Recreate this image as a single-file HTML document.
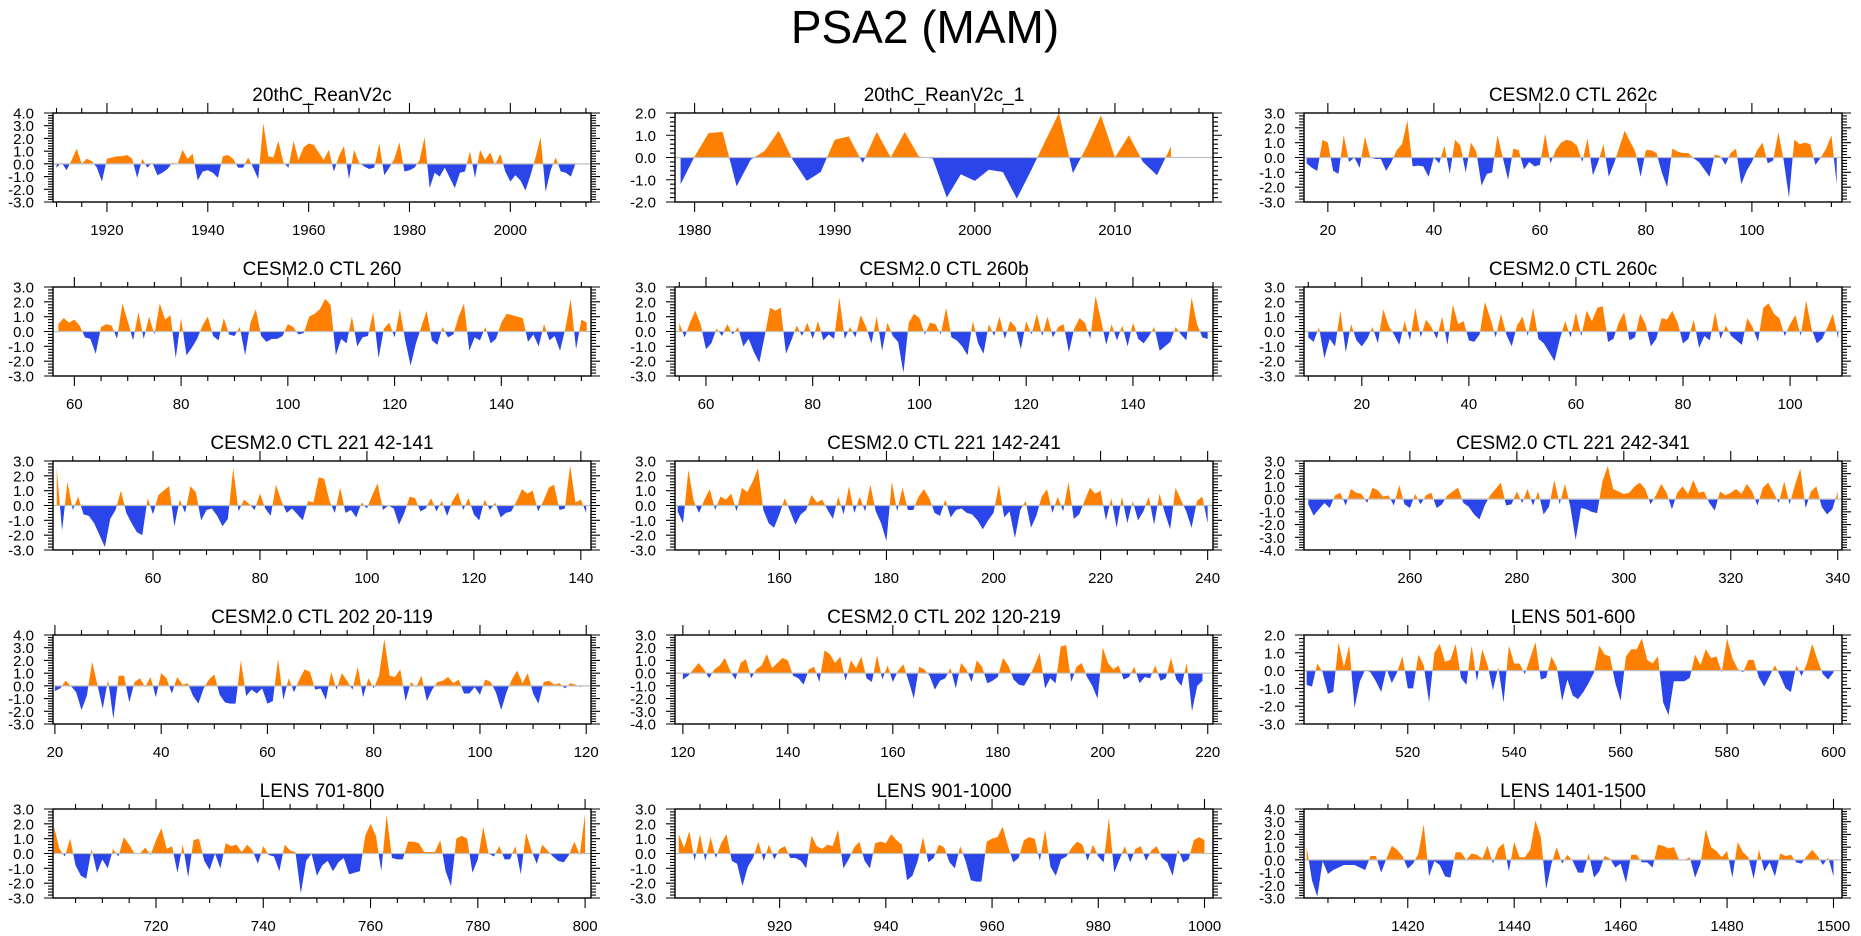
<!DOCTYPE html>
<html><head><meta charset="utf-8"><title>PSA2 (MAM)</title>
<style>
html,body{margin:0;padding:0;background:#fff;}
svg{display:block;font-family:"Liberation Sans",Arial,sans-serif;}
</style></head>
<body>
<svg id="chart" width="1861" height="936" viewBox="0 0 1861 936" xmlns="http://www.w3.org/2000/svg">
<rect width="1861" height="936" fill="#fff"/>
<text x="925" y="43" font-size="46" text-anchor="middle" fill="#000">PSA2 (MAM)</text>
<g id="panels"></g>
</svg>
<script>
// ---- data ----
const titles = ["20thC_ReanV2c","20thC_ReanV2c_1","CESM2.0 CTL 262c","CESM2.0 CTL 260","CESM2.0 CTL 260b","CESM2.0 CTL 260c","CESM2.0 CTL 221 42-141","CESM2.0 CTL 221 142-241","CESM2.0 CTL 221 242-341","CESM2.0 CTL 202 20-119","CESM2.0 CTL 202 120-219","LENS 501-600","LENS 701-800","LENS 901-1000","LENS 1401-1500"];
const startYears = [1910,1979,16,57,55,10,42,141,241,20,120,501,701,901,1401];
const yMins = [-3,-2,-3,-3,-3,-3,-3,-3,-4,-3,-4,-3,-3,-3,-3];
const yMaxs = [4,2,3,3,3,3,3,3,3,4,3,2,3,3,4];
const xMins = [1909.3,1978.6,15.5,56,54.2,9.2,41.3,140.5,240.2,19.64,118.5,500.5,700.8,900.3,1400.5];
const xMaxs = [2016,2017,117,156.8,155,109.7,141.9,241,340.8,120.9,221,601.6,801.1,1001.6,1501.6];
const xMajorSteps = [20,10,20,20,20,20,20,20,20,20,20,20,20,20,20];
const xMinorSteps = [5,2,5,5,5,5,5,5,5,5,5,5,5,5,5];

const s0 = [-0.3,0.1,-0.5,0.3,1.2,0.0,0.4,0.2,-0.3,-1.4,0.4,0.5,0.6,0.6,0.7,0.4,-1.1,0.4,-0.3,0.1,-0.9,-0.7,-0.4,0.1,0.0,1.1,0.4,0.8,-1.3,-0.6,-0.5,-0.7,-1.1,0.6,0.7,0.4,-0.3,-0.3,0.5,-0.3,-1.2,3.2,0.6,0.5,1.8,0.1,-0.3,1.8,0.3,1.3,1.6,1.5,0.9,0.3,1.1,-0.6,0.6,1.4,-1.2,1.1,0.1,-0.2,-0.4,-0.3,1.6,-0.9,-0.3,0.4,1.7,-0.6,-0.5,-0.3,0.3,2.1,-1.9,-0.7,-1.0,-0.3,-1.1,-1.9,-0.7,-0.6,1.0,-1.1,1.1,0.3,0.9,-0.1,0.8,-0.6,-1.4,-0.9,-1.3,-2.1,-0.9,0.5,2.1,-2.2,-0.5,0.5,-0.6,-0.7,-1.0,0.1];
const s1 = [-1.2,0.05,1.1,1.15,-1.3,-0.1,0.3,1.2,-0.1,-1.05,-0.65,0.8,0.95,-0.25,1.15,0.0,1.15,0.05,-0.05,-1.8,-0.75,-1.05,-0.55,-0.65,-1.85,-0.6,0.7,2.0,-0.7,0.5,1.9,0.0,1.0,-0.2,-0.8,0.5];
const s2 = [-0.4,-0.7,-0.9,1.2,1.0,-0.9,-1.1,1.5,-0.3,0.0,-0.7,1.4,0.0,-0.1,-0.1,-0.9,-0.3,0.5,0.9,2.5,-0.6,-0.55,-0.6,-1.3,0.0,-0.4,0.8,-1.1,1.2,0.8,-1.0,1.0,0.4,-1.9,-1.1,-1.0,1.5,0.0,-1.5,0.6,0.5,-0.8,-0.3,-0.6,-0.5,1.6,-0.4,0.5,1.0,1.2,1.1,0.8,-0.3,1.3,-1.2,-0.3,0.9,-1.3,-0.4,0.7,1.8,1.1,0.4,-1.3,0.5,0.5,0.3,-1.0,-2.0,0.6,0.4,0.3,0.3,-0.05,-0.3,-0.8,-1.3,0.2,0.1,-0.5,0.3,0.6,-1.8,-0.9,-0.3,0.5,1.0,-0.4,-0.2,1.7,-0.2,-2.7,1.2,0.9,1.0,0.9,-0.5,0.0,0.6,1.5,-1.8];
const s3 = [0.5,0.9,0.6,0.8,0.4,-0.4,-0.5,-1.5,0.3,0.5,0.4,-0.5,1.9,0.7,-0.6,1.3,-0.5,1.0,-0.2,1.9,0.8,1.1,-1.8,0.9,-1.6,-1.1,-0.5,0.4,1.0,-0.3,-0.6,0.9,-0.2,-0.3,0.3,-1.6,0.6,1.5,-0.3,-0.7,-0.5,-0.5,-0.3,0.5,0.3,-0.2,-0.1,1.0,1.2,1.5,2.2,1.8,-1.6,-0.5,-0.8,1.0,-1.0,-0.4,-0.3,1.3,-1.8,0.2,0.6,-0.4,1.5,-0.6,-2.3,-0.8,0.3,1.4,-0.6,-0.9,0.3,-0.4,-0.2,1.0,1.9,-1.3,-0.4,-0.6,0.3,-0.8,-0.5,0.6,1.2,1.1,1.0,0.9,-0.7,-0.2,-1.0,0.5,-0.6,-0.3,-1.3,0.2,2.2,-1.2,0.8,0.6];
const s4 = [0.6,-0.4,0.6,1.4,0.5,-1.2,-0.8,0.2,-0.3,0.5,-0.2,0.3,-1.0,-0.5,-1.4,-2.1,-0.3,1.6,1.4,1.6,-1.5,-0.6,0.4,-0.3,0.6,-0.5,0.7,-0.6,-0.2,-0.5,2.3,-0.5,0.3,-0.4,1.1,0.3,-0.8,1.0,-1.3,0.6,-0.3,-0.7,-2.8,0.6,1.2,0.9,-0.2,0.6,0.5,-0.2,1.6,-0.4,-0.6,-1.0,-1.6,0.7,-0.8,-1.5,0.5,-0.3,1.0,-0.5,0.7,0.3,-1.2,0.7,-0.2,1.2,-0.3,1.0,-0.4,0.3,0.5,-1.4,0.2,0.9,0.6,-0.5,2.4,0.8,-0.9,0.5,-0.6,0.4,-1.0,0.6,-0.5,-0.8,-0.3,0.3,-1.3,-1.0,-0.7,0.3,-0.2,-0.6,2.3,0.5,-0.4,-0.5];
const s5 = [-0.4,-0.7,0.3,-1.8,-0.5,-1.0,1.4,-1.4,0.5,-0.6,-1.0,-0.5,0.3,-0.8,1.5,0.4,-0.2,-0.9,0.7,-0.6,1.6,-0.4,0.8,0.3,-0.5,1.0,-0.9,1.8,0.5,0.7,-0.6,-0.7,-0.2,2.0,0.9,-0.4,1.2,-0.2,-1.0,0.4,1.0,-0.3,1.6,-0.5,-0.8,-1.4,-2.0,-0.5,0.7,-0.4,1.3,-0.3,1.4,0.7,1.6,1.7,-0.7,-0.5,0.6,1.3,-0.6,-0.4,1.2,0.5,-1.0,-0.5,0.9,0.8,1.4,0.6,-0.8,-0.5,0.8,-1.1,-0.3,-0.6,1.3,-0.5,0.4,-0.3,-0.6,-0.9,0.9,0.3,-0.7,1.6,1.9,1.2,0.9,-0.3,0.5,1.1,-0.3,2.1,0.2,-0.8,-0.5,0.3,1.2,-0.5];
const s6 = [2.5,-1.7,1.6,-0.3,0.6,-0.6,-0.7,-1.2,-2.0,-2.8,-0.9,-0.3,1.0,-0.5,-1.2,-1.8,-2.0,0.5,-0.6,0.7,1.0,1.3,-1.4,0.4,-0.5,1.3,0.9,-1.0,-0.3,-0.2,-0.7,-1.4,-0.9,2.5,-0.4,0.4,0.1,-0.3,0.8,-0.2,-0.7,1.4,0.3,-0.5,-0.2,-0.6,-1.0,0.3,0.2,1.9,1.8,0.3,-0.5,1.2,-0.5,-0.3,-0.8,0.2,-0.2,0.7,1.5,-0.3,0.0,-0.2,-1.3,-0.5,0.6,0.5,-0.4,-0.2,0.5,-0.4,0.3,-0.7,0.3,0.9,-0.3,0.5,-0.6,-1.0,0.4,-0.3,0.2,-0.8,-0.5,-0.4,0.3,1.1,0.8,1.0,-0.4,0.3,1.2,1.4,-0.3,-0.2,2.7,0.2,0.4,-0.5];
const s7 = [-0.4,-1.2,2.4,0.3,-0.5,0.4,1.1,-0.3,0.6,0.4,0.8,-0.4,1.2,0.9,1.6,2.5,-0.3,-1.2,-1.5,-0.6,0.5,-0.4,-1.3,-0.6,-0.3,0.7,0.2,0.4,-0.3,-0.9,0.6,-0.6,1.3,-0.5,0.6,-0.4,1.4,-0.4,-1.2,-2.4,1.6,-0.4,1.2,-0.3,-0.3,0.6,1.1,0.5,-0.5,-0.7,0.4,-0.8,-0.3,-0.2,-0.5,-0.6,-1.0,-1.6,-1.0,-0.5,1.4,-0.8,-0.4,-2.2,-0.3,0.3,-1.5,-0.7,0.6,1.1,-0.5,0.6,-0.4,1.6,-0.9,-0.6,0.3,1.2,0.8,1.0,-1.0,0.5,-1.5,0.6,-1.2,0.3,-1.0,-0.4,0.6,-1.3,0.8,-0.5,-1.6,1.2,0.4,-0.4,-1.5,0.3,0.6,-1.2];
const s8 = [-0.4,-1.3,-0.8,-0.3,-0.7,0.3,0.5,-0.5,0.8,0.5,0.4,-0.3,0.9,0.7,0.2,0.3,-0.5,1.1,-0.4,-0.7,0.4,-0.4,0.3,0.5,-0.7,-0.4,0.3,0.6,0.9,-0.3,-0.6,-1.2,-1.6,-0.5,0.3,0.8,1.3,-0.5,-0.4,0.6,-0.3,0.8,-0.5,0.6,-1.2,-0.6,1.5,-0.4,1.2,-0.6,-3.2,-0.7,-0.8,-1.0,-1.1,1.4,2.6,0.8,0.6,0.4,0.5,1.0,1.3,0.8,-0.4,0.3,1.2,0.5,-0.8,0.5,1.0,0.4,1.5,0.5,0.6,-0.3,-0.9,0.6,0.3,0.5,0.8,0.4,1.2,0.6,-0.5,0.9,1.3,0.5,-0.3,1.4,-0.4,1.1,2.4,-0.7,0.6,1.0,-0.6,-1.2,-0.8,0.6];
const s9 = [-0.4,-0.2,0.4,0.0,-0.5,-1.9,-0.8,1.9,0.1,-1.8,0.5,-2.6,0.8,0.8,-1.3,0.3,0.6,-0.1,0.7,-0.9,1.0,0.6,-0.6,0.7,0.1,0.2,-0.8,-1.4,-0.2,0.5,0.9,-0.7,-1.3,-1.4,-1.4,2.0,-0.8,-0.3,-0.6,-0.2,-1.4,-1.2,2.1,-1.1,0.6,-0.5,0.5,1.3,1.1,-0.3,-0.2,-1.1,1.1,-0.3,1.0,0.4,-0.3,1.5,-0.9,0.6,-0.2,0.8,3.7,0.8,0.7,1.3,-1.2,0.3,-0.1,0.8,-1.2,-0.3,0.3,0.4,0.7,0.2,0.5,-0.6,-0.6,-0.1,-0.7,0.5,0.3,-0.5,-1.9,-0.5,0.5,1.2,0.2,1.0,-0.6,-1.4,0.3,0.4,0.1,0.2,-0.2,0.2,0.1,-0.1];
const s10 = [-0.5,-0.2,0.3,0.8,0.3,-0.4,0.3,0.6,1.2,0.2,-0.5,0.8,1.1,-0.4,0.3,0.6,1.5,0.4,0.8,1.2,1.0,-0.2,-0.4,-0.9,0.3,0.5,-0.7,1.8,1.5,0.8,1.3,-0.6,1.0,0.4,1.3,-0.4,-0.7,1.4,-0.5,0.6,-0.7,0.2,0.7,-0.6,-2.0,0.5,0.3,-0.2,-1.3,-0.6,-0.4,0.4,-1.2,0.8,0.3,-0.7,1.0,0.5,-0.8,-0.6,-0.3,1.2,0.6,-0.5,-0.9,-1.0,-0.3,0.6,1.6,-1.2,-0.4,-0.8,2.1,2.2,-0.7,0.5,0.8,-0.3,-1.0,-2.0,2.0,0.8,0.3,0.6,-0.5,-0.3,0.5,-0.8,-0.3,-0.4,0.6,-0.6,-0.4,1.2,-0.5,-1.0,0.8,-3.0,-1.0,-0.6];
const s11 = [-0.8,-0.9,0.4,-0.1,-1.3,-1.2,1.6,0.2,1.4,-2.1,-0.6,0.05,-0.1,-0.6,-1.2,0.1,-0.7,-0.1,0.8,-1.0,-1.0,0.9,0.3,-1.8,1.0,1.5,0.5,0.6,1.5,-0.4,-0.8,1.4,-0.6,1.2,0.3,-1.1,0.2,-1.8,1.4,0.4,0.4,-0.2,0.7,1.6,-0.5,-0.4,0.8,0.2,-1.7,-0.5,-1.4,-1.6,-1.2,-0.7,-0.1,1.4,0.9,0.8,-0.7,-1.7,0.8,1.2,1.2,1.8,0.6,0.4,0.8,-1.8,-2.5,-0.6,-0.6,-0.6,-0.4,0.9,0.3,1.2,0.7,0.8,-0.1,1.8,0.7,0.1,-0.1,0.6,0.6,-0.4,-0.9,-0.3,0.3,-0.3,-1.0,-1.2,0.3,-0.3,0.4,1.5,0.6,-0.2,-0.5,-0.1];
const s12 = [1.8,0.3,-0.2,1.0,-0.8,-1.5,-1.7,0.3,-1.3,-0.4,-1.0,0.3,-0.2,1.1,0.6,0.0,0.0,0.4,-0.1,0.9,1.7,0.3,0.5,-1.3,0.6,-1.6,0.9,1.0,-0.5,-1.1,0.0,-1.0,0.7,0.5,0.6,0.1,0.6,0.2,-0.7,0.5,-0.1,-0.2,-1.2,0.6,0.2,0.1,-2.7,-0.5,0.0,-1.5,-0.8,-0.5,-1.2,-0.6,-0.3,-1.4,-1.3,-1.2,1.2,2.0,1.2,-1.2,2.6,-0.3,-0.4,-0.4,0.8,0.8,0.7,0.1,0.1,0.1,0.9,-1.2,-2.2,1.0,1.2,1.0,-1.3,-0.4,1.8,0.0,-0.2,0.5,-0.4,-0.4,0.5,-1.4,1.4,0.2,-0.7,0.6,0.2,-0.2,-0.5,-0.6,-0.1,0.8,-0.1,2.7];
const s13 = [1.3,0.4,1.5,-0.5,1.3,-0.5,1.1,-0.3,0.7,1.3,-0.5,-0.7,-2.2,-0.9,-0.3,0.8,-0.5,0.6,-0.4,0.3,0.5,-0.3,-0.3,-0.5,-1.0,1.2,0.5,0.3,0.6,0.5,1.6,-1.0,-0.4,0.4,0.8,-0.5,-1.0,0.7,0.8,0.7,1.3,0.9,0.6,-1.8,-1.5,-0.5,1.1,-0.6,-0.3,0.6,0.4,-0.6,-1.0,0.5,-0.5,-1.8,-1.9,-1.9,0.8,1.0,1.1,1.8,0.5,-0.6,-0.3,0.9,1.1,1.0,-0.5,1.6,-0.9,-1.5,-0.4,-0.2,0.4,0.8,0.6,-0.5,0.6,-0.2,-0.6,2.4,-1.3,-0.4,0.5,-0.6,0.3,0.5,-0.5,0.2,0.5,-0.3,-0.6,-1.5,0.3,-0.6,-0.4,0.9,1.1,0.9];
const s14 = [1.0,-1.6,-2.9,-0.1,-1.1,-0.8,-0.6,-0.4,-0.4,-0.4,-0.6,-0.8,0.3,0.3,-1.0,0.1,1.1,0.8,0.3,-0.7,-0.3,0.5,2.8,-1.3,-0.1,-0.4,-1.3,-1.4,0.6,0.6,0.0,0.5,0.4,0.1,1.1,-0.3,0.9,1.3,-0.9,1.4,0.2,0.2,0.8,3.1,1.8,-2.3,-0.3,1.0,-0.3,0.4,-0.1,-1.0,-1.0,0.5,-1.4,-0.9,0.3,0.1,-0.6,-0.3,-1.8,0.4,0.4,-0.2,-0.2,-0.6,1.2,1.1,0.9,1.0,0.0,0.0,0.2,-1.4,-0.3,2.4,1.0,0.7,0.2,0.7,-1.4,1.4,0.6,0.2,-1.5,0.8,-0.9,-0.2,-1.3,0.5,0.3,0.4,-0.2,-0.3,0.3,0.8,0.3,-0.4,0.2,-1.3];
const seriesValues = [s0,s1,s2,s3,s4,s5,s6,s7,s8,s9,s10,s11,s12,s13,s14];

// ---- layout ----
const colLefts = [53, 675, 1304];
const rowTops = [113, 287, 461, 635, 809];
const PW = 538, PH = 89;
const ORANGE = "#ff8000", BLUE = "#2a45ea";
const NS = "http://www.w3.org/2000/svg";
const root = document.getElementById('panels');

function mk(tag, attrs, parent){
  const e = document.createElementNS(NS, tag);
  for (const k in attrs) e.setAttribute(k, attrs[k]);
  parent.appendChild(e);
  return e;
}
function fmt(v){ return (Math.abs(v) < 1e-9 ? 0 : v).toFixed(1); }

for (let p = 0; p < 15; p++) {
  const L = colLefts[p % 3], T = rowTops[Math.floor(p / 3)];
  const R = L + PW, B = T + PH;
  const xmin = xMins[p], xmax = xMaxs[p], ymin = yMins[p], ymax = yMaxs[p];
  const xs = v => L + (v - xmin) / (xmax - xmin) * PW;
  const ys = v => B - (v - ymin) / (ymax - ymin) * PH;
  const g = mk('g', {}, root);
  
  

  const t = mk('text', {x: L + PW / 2, y: T - 12, 'font-size': 19, 'text-anchor': 'middle', fill: '#000'}, g);
  
  
  t.textContent = titles[p];

  const y0 = ys(0);
  const defs = mk('defs', {}, g);
  const cpA = mk('clipPath', {id: 'ca' + p}, defs);
  mk('rect', {x: L, y: T, width: PW, height: y0 - T}, cpA);
  const cpB = mk('clipPath', {id: 'cb' + p}, defs);
  mk('rect', {x: L, y: y0, width: PW, height: B - y0}, cpB);

  const vals = seriesValues[p], st = startYears[p];
  let d = 'M' + xs(st).toFixed(2) + ',' + y0.toFixed(2);
  vals.forEach((v, i) => { d += 'L' + xs(st + i).toFixed(2) + ',' + ys(v).toFixed(2); });
  d += 'L' + xs(st + vals.length - 1).toFixed(2) + ',' + y0.toFixed(2) + 'Z';
  const pa = mk('path', {d: d, fill: ORANGE, 'clip-path': 'url(#ca' + p + ')'}, g);
  
  
  const pb = mk('path', {d: d, fill: BLUE, 'clip-path': 'url(#cb' + p + ')'}, g);
  
  
  const zl = mk('line', {x1: L, x2: R, y1: y0, y2: y0, stroke: '#c0c0c0', 'stroke-width': 1.2}, g);
  
  

  const fr = mk('rect', {x: L, y: T, width: PW, height: PH, fill: 'none', stroke: '#000', 'stroke-width': 1.4}, g);
  
  

  let tp = '';
  for (let k = Math.round(ymin * 5); k <= Math.round(ymax * 5); k++) {
    const v = k / 5, y = ys(v), major = (k % 5 === 0), len = major ? 9 : 5;
    tp += 'M' + L + ',' + y.toFixed(2) + 'h' + (-len) + 'M' + R + ',' + y.toFixed(2) + 'h' + len;
    if (major) {
      const yl = mk('text', {x: L - 19, y: y + 5.5, 'font-size': 15, 'text-anchor': 'end', fill: '#000'}, g);
      
      
      yl.textContent = fmt(v);
    }
  }
  const mi = xMinorSteps[p], ma = xMajorSteps[p];
  for (let v = Math.ceil(xmin / mi) * mi; v <= xmax; v += mi) {
    const x = xs(v), major = (v % ma === 0), len = major ? 10 : 5;
    tp += 'M' + x.toFixed(2) + ',' + B + 'v' + len + 'M' + x.toFixed(2) + ',' + T + 'v' + (-len);
    if (major) {
      const xl = mk('text', {x: x, y: B + 33, 'font-size': 15, 'text-anchor': 'middle', fill: '#000'}, g);
      
      
      xl.textContent = String(v);
    }
  }
  const tk = mk('path', {d: tp, stroke: '#000', 'stroke-width': 1.1, fill: 'none'}, g);
  
  
}
</script>
</body></html>
